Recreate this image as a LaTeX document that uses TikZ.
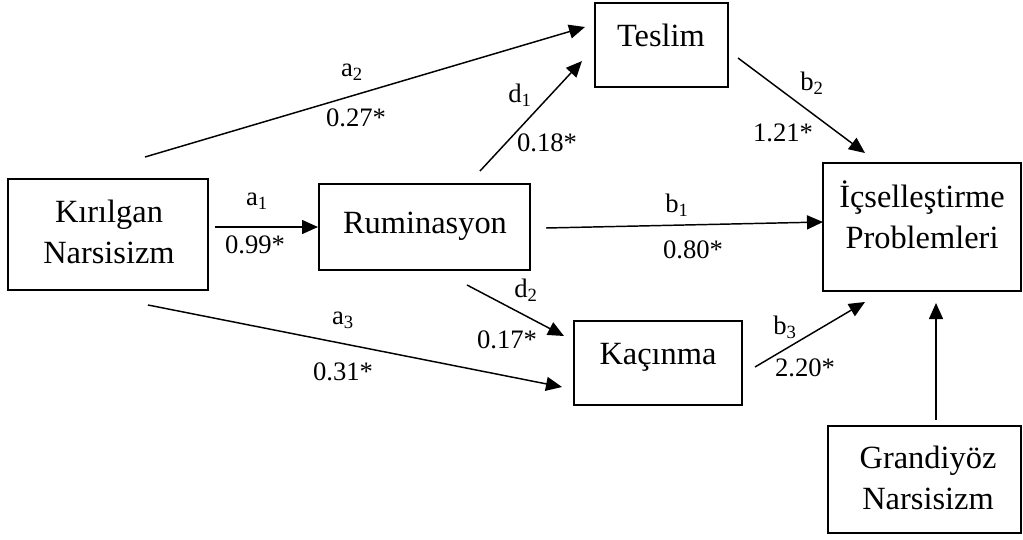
\documentclass[tikz,border=0pt]{standalone}
\usepackage{fontspec}
\setmainfont{Liberation Serif}
\usetikzlibrary{fit,arrows.meta}
\begin{document}
\begin{tikzpicture}[x=0.75pt,y=-0.75pt,
  box/.style={draw,line width=1.7pt,inner sep=0pt},
  boxtext/.style={align=center,inner sep=0pt,font=\fontsize{24.3}{30.5}\selectfont},
  lab/.style={inner sep=0pt,font=\fontsize{20}{22}\selectfont},
  arr/.style={line width=1.1pt,-{Triangle[length=12pt,width=10.5pt]}}]
\useasboundingbox (0,0) rectangle (1023,539);

% boxes
\node[box,fit={(8,179)(208,290)}] (kn) {};
\node[box,fit={(319,184)(530,270)}] (ru) {};
\node[box,fit={(595,3)(728,87)}] (te) {};
\node[box,fit={(823,163)(1021,291)}] (ip) {};
\node[box,fit={(574,321)(742,405)}] (ka) {};
\node[box,fit={(828,426)(1021,533)}] (gn) {};

% box texts
\node[boxtext] (knt) at (109,232) {Kırılgan\\Narsisizm};
\node[boxtext] (rut) at (425,226) {Ruminasyon};
\node[boxtext] (tet) at (661,35) {Teslim};
\node[boxtext] (ipt) at (922,215) {İçselleştirme\\Problemleri};
\node[boxtext] (kat) at (658,357) {Kaçınma};
\node[boxtext] (gnt) at (928,478) {Grandiyöz\\Narsisizm};

% arrow end points
\coordinate (a1s) at (215,227); \coordinate (a1e) at (318,227);
\coordinate (a2s) at (145,157); \coordinate (a2e) at (585,27);
\coordinate (d1s) at (480,171); \coordinate (d1e) at (582,61);
\coordinate (b2s) at (738,58);  \coordinate (b2e) at (865,153);
\coordinate (b1s) at (546,228); \coordinate (b1e) at (823,222);
\coordinate (d2s) at (467,285); \coordinate (d2e) at (564,336);
\coordinate (a3s) at (148,305); \coordinate (a3e) at (562,387);
\coordinate (b3s) at (755,367); \coordinate (b3e) at (865,302);
\coordinate (gs)  at (936,420); \coordinate (ge)  at (936,303);

\draw[arr] (a1s) -- (a1e);
\draw[arr] (a2s) -- (a2e);
\draw[arr] (d1s) -- (d1e);
\draw[arr] (b2s) -- (b2e);
\draw[arr] (b1s) -- (b1e);
\draw[arr] (d2s) -- (d2e);
\draw[arr] (a3s) -- (a3e);
\draw[arr] (b3s) -- (b3e);
\draw[arr] (gs) -- (ge);

% labels
\node[lab] (la1) at (257,201) {a\textsubscript{1}};
\node[lab] (va1) at (255,245) {0.99*};
\node[lab] (la2) at (352,72) {a\textsubscript{2}};
\node[lab] (va2) at (356,118) {0.27*};
\node[lab] (ld1) at (520,95) {d\textsubscript{1}};
\node[lab] (vd1) at (547,143) {0.18*};
\node[lab] (lb2) at (812,83) {b\textsubscript{2}};
\node[lab] (vb2) at (783,133) {1.21*};
\node[lab] (lb1) at (677,205) {b\textsubscript{1}};
\node[lab] (vb1) at (693,250) {0.80*};
\node[lab] (ld2) at (526,290) {d\textsubscript{2}};
\node[lab] (vd2) at (507,340) {0.17*};
\node[lab] (la3) at (343,320) {a\textsubscript{3}};
\node[lab] (va3) at (343,372) {0.31*};
\node[lab] (lb3) at (785,327) {b\textsubscript{3}};
\node[lab] (vb3) at (805,368) {2.20*};
\end{tikzpicture}
\end{document}
